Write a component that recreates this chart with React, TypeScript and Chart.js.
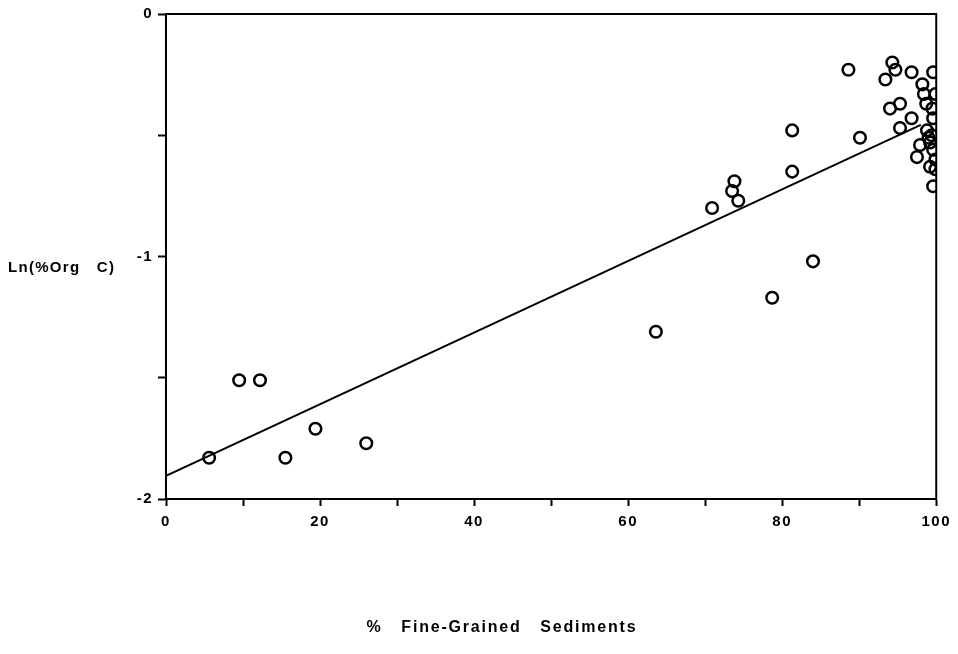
import React, { useEffect, useRef } from "react";
import { Chart, registerables } from "chart.js";

Chart.register(...registerables);

const pointsX = [5.6, 9.5, 12.2, 15.5, 19.4, 26.0, 63.6, 70.9, 73.5, 73.8, 74.3, 78.7, 81.3, 81.3, 84.0, 88.6, 90.1, 93.4, 94.0, 94.3, 94.7, 95.3, 95.3, 96.8, 96.8, 97.5, 97.9, 98.2, 98.4, 98.7, 98.8, 99.0, 99.2, 99.5, 99.6, 99.6, 99.6, 99.6, 99.9, 99.9, 99.9, 99.2, 99.4];
const pointsY = [-1.83, -1.51, -1.51, -1.83, -1.71, -1.77, -1.31, -0.80, -0.73, -0.69, -0.77, -1.17, -0.48, -0.65, -1.02, -0.23, -0.51, -0.27, -0.39, -0.20, -0.23, -0.37, -0.47, -0.24, -0.43, -0.59, -0.54, -0.29, -0.33, -0.37, -0.48, -0.51, -0.63, -0.39, -0.24, -0.43, -0.56, -0.71, -0.33, -0.60, -0.64, -0.53, -0.50];
const fitX = [0, 98];
const fitY = [-1.905, -0.457];
const xTickLabels = ["0", "20", "40", "60", "80", "100"];
const yTickLabels = ["0", "-1", "-2"];
const xTitle = "%   Fine-Grained   Sediments";
const yTitle = "Ln(%Org   C)";

const FONT = "'Liberation Sans', Arial, sans-serif";

export default function App() {
  const ref = useRef<HTMLCanvasElement>(null);
  useEffect(() => {
    const frame = {
      id: "frame",
      beforeLayout(chart: any) {
        (chart.ctx as any).letterSpacing = "1.5px";
      },
      beforeDraw(chart: any) {
        (chart.ctx as any).letterSpacing = "1.5px";
      },
      afterDraw(chart: any) {
        const { ctx, chartArea: a } = chart;
        ctx.save();
        ctx.strokeStyle = "#000";
        ctx.lineWidth = 2;
        ctx.beginPath();
        ctx.moveTo(a.left, a.top);
        ctx.lineTo(a.right, a.top);
        ctx.lineTo(a.right, a.bottom);
        ctx.stroke();
        ctx.fillStyle = "#000";
        (ctx as any).letterSpacing = "1.3px";
        ctx.font = `bold 15px ${FONT}`;
        ctx.textBaseline = "middle";
        ctx.textAlign = "left";
        ctx.fillText(yTitle, 8, 268);
        (ctx as any).letterSpacing = "1.8px";
        ctx.font = `bold 16px ${FONT}`;
        ctx.textAlign = "center";
        ctx.fillText(xTitle, 502, 628);
        ctx.restore();
      },
    };
    const chart = new Chart(ref.current!, {
      type: "scatter",
      data: {
        datasets: [
          {
            type: "line",
            data: fitX.map((x, i) => ({ x, y: fitY[i] })),
            borderColor: "#000",
            borderWidth: 2,
            pointRadius: 0,
            fill: false,
          } as any,
          {
            data: pointsX.map((x, i) => ({ x, y: pointsY[i] })),
            pointRadius: 5.8,
            pointBorderWidth: 2.5,
            pointBorderColor: "#000",
            pointBackgroundColor: "rgba(0,0,0,0)",
          },
        ],
      },
      options: {
        animation: false,
        responsive: false,
        plugins: { legend: { display: false }, tooltip: { enabled: false } },
        layout: { padding: { left: 0, right: 21, top: 14, bottom: 0 } },
        scales: {
          x: {
            type: "linear",
            min: 0,
            max: 100,
            afterFit(s: any) { s.height = 155; },
            border: { color: "#000", width: 2 },
            grid: { drawOnChartArea: false, drawTicks: true, tickLength: 7, color: "#000", tickWidth: 2 },
            ticks: {
              stepSize: 10,
              padding: 7,
              color: "#000",
              font: { family: FONT, size: 15, weight: "bold" },
              maxRotation: 0,
              autoSkip: false,
              callback: (v: any) => {
                const idx = xTickLabels.indexOf(String(v));
                return idx >= 0 ? xTickLabels[idx] : "";
              },
            },
          },
          y: {
            type: "linear",
            min: -2,
            max: 0,
            afterFit(s: any) { s.width = 166; },
            border: { color: "#000", width: 2 },
            grid: { drawOnChartArea: false, drawTicks: true, tickLength: 8, color: "#000", tickWidth: 2 },
            ticks: {
              stepSize: 0.5,
              padding: 5,
              color: "#000",
              font: { family: FONT, size: 15, weight: "bold" },
              autoSkip: false,
              callback: (v: any) => {
                const idx = yTickLabels.indexOf(String(v));
                return idx >= 0 ? yTickLabels[idx] : "";
              },
            },
          },
        },
      },
      plugins: [frame],
    } as any);
    return () => chart.destroy();
  }, []);
  return (
    <div style={{ position: "fixed", left: 0, top: 0, width: 958, height: 654, background: "#fff" }}>
      <canvas ref={ref} width={958} height={654} style={{ width: 958, height: 654 }} />
    </div>
  );
}
